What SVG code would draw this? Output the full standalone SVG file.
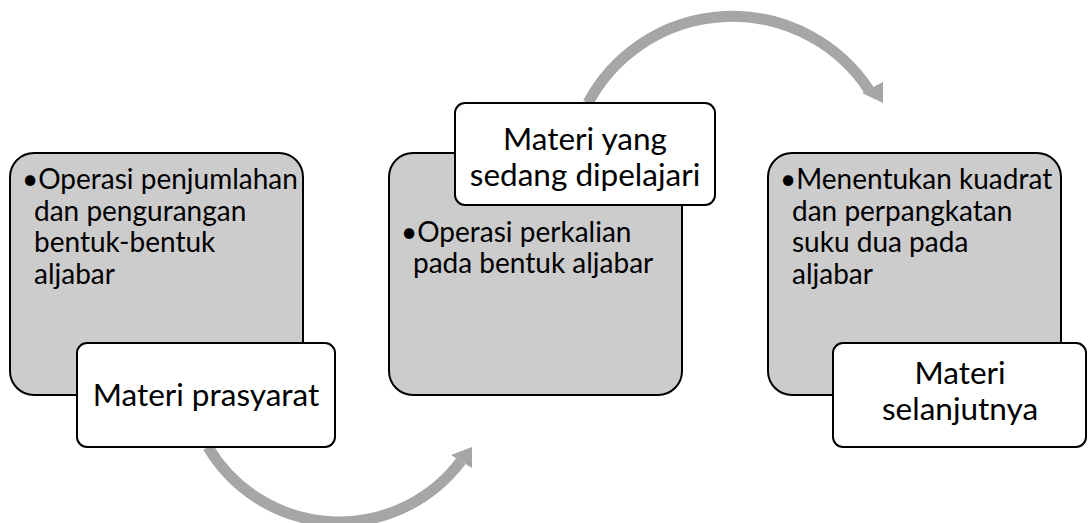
<svg xmlns="http://www.w3.org/2000/svg" width="1088" height="523" viewBox="0 0 1088 523">
<style>
.arc{fill:none;stroke:#a6a6a6;stroke-width:11}
.head{fill:#a6a6a6}
.gbox{fill:#cccccc;stroke:#000;stroke-width:2}
.wbox{fill:#fff;stroke:#000;stroke-width:2}
.bt{font-family:Lato,"Liberation Sans",sans-serif;font-size:28px;fill:#000}
.lt{font-family:Lato,"Liberation Sans",sans-serif;font-size:31.5px;fill:#000;text-anchor:middle}
</style>
<rect width="1088" height="523" fill="#fff"/>
<g id="connectors">
<path class="arc" d="M208 447 A152.3 152.3 0 0 0 461 461"/>
<polygon class="head" points="451,455 472,447 472,468"/>
<path class="arc" d="M588 103 A163.6 163.6 0 0 1 869 90"/>
<polygon class="head" points="862,93 883,82 883,103"/>
</g>
<g id="node1">
<rect class="gbox" x="10" y="153" width="293" height="242" rx="24"/>
<text class="bt" x="22" y="189">•Operasi penjumlahan</text>
<text class="bt" x="34" y="220.5">dan pengurangan</text>
<text class="bt" x="34" y="252">bentuk-bentuk</text>
<text class="bt" x="34" y="283.5">aljabar</text>
</g>
<g id="label1">
<rect class="wbox" x="77" y="343" width="258" height="104" rx="10"/>
<text class="lt" x="206" y="406">Materi prasyarat</text>
</g>
<g id="node2">
<rect class="gbox" x="389" y="153" width="293" height="242" rx="24"/>
<text class="bt" x="401" y="242">•Operasi perkalian</text>
<text class="bt" x="413" y="272.5">pada bentuk aljabar</text>
</g>
<g id="label2">
<rect class="wbox" x="455" y="103" width="260" height="102" rx="10"/>
<text class="lt" x="585" y="150">Materi yang</text>
<text class="lt" x="585" y="186">sedang dipelajari</text>
</g>
<g id="node3">
<rect class="gbox" x="768" y="153" width="293" height="242" rx="24"/>
<text class="bt" x="780" y="189">•Menentukan kuadrat</text>
<text class="bt" x="792" y="220.5">dan perpangkatan</text>
<text class="bt" x="792" y="252">suku dua pada</text>
<text class="bt" x="792" y="283.5">aljabar</text>
</g>
<g id="label3">
<rect class="wbox" x="833" y="343" width="253" height="104" rx="10"/>
<text class="lt" x="960" y="384">Materi</text>
<text class="lt" x="960" y="420">selanjutnya</text>
</g>
</svg>
